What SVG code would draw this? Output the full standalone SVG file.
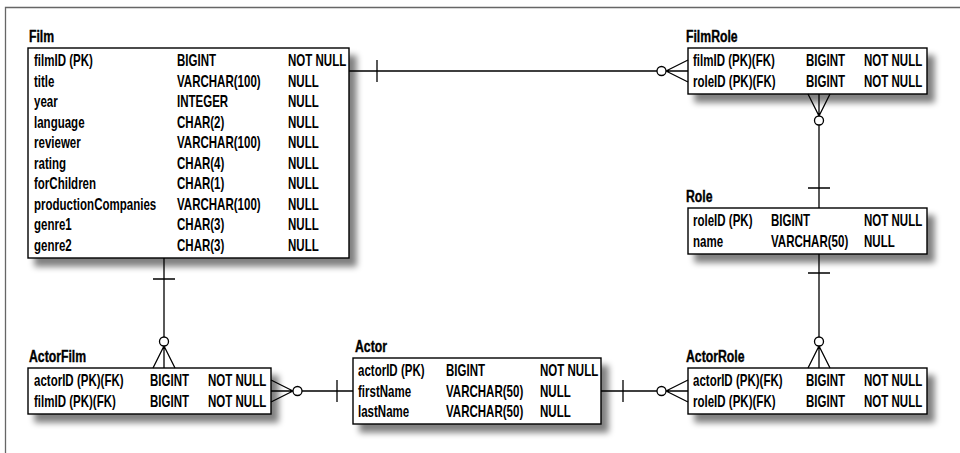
<svg xmlns="http://www.w3.org/2000/svg" width="960" height="453" viewBox="0 0 960 453">
<defs>
<filter id="sh" x="-5%" y="-5%" width="120%" height="160%">
<feOffset in="SourceAlpha" dx="7" dy="8"/>
<feGaussianBlur stdDeviation="3"/>
<feComponentTransfer><feFuncA type="linear" slope="0.5"/></feComponentTransfer>
<feMerge><feMergeNode/><feMergeNode in="SourceGraphic"/></feMerge>
</filter>
</defs>
<style>
.box{fill:#fff;stroke:#000;stroke-width:1.4;filter:url(#sh)}
.t{font-family:"Liberation Sans",Arial,sans-serif;font-weight:bold;font-size:17px;fill:#000;stroke:#000;stroke-width:0.4}
.r{font-family:"Liberation Sans",Arial,sans-serif;font-weight:bold;font-size:16px;fill:#000}
.c{fill:none;stroke:#000;stroke-width:1.3}
.o{fill:#fff;stroke:#000;stroke-width:1.3}
</style>
<rect width="960" height="453" fill="#fff"/>
<path d="M5.5 453 V7.5 H960" fill="none" stroke="#666" stroke-width="1.3"/>

<g id="Film">
<text class="t" transform="translate(29 42) scale(.72 1)">Film</text>
<rect class="box" x="28" y="48" width="321" height="210"/>
<text class="r" transform="translate(34 66) scale(.72 1)">filmID (PK)</text>
<text class="r" transform="translate(177 66) scale(.72 1)">BIGINT</text>
<text class="r" transform="translate(288 66) scale(.72 1)">NOT NULL</text>
<text class="r" transform="translate(34 86.5) scale(.72 1)">title</text>
<text class="r" transform="translate(177 86.5) scale(.72 1)">VARCHAR(100)</text>
<text class="r" transform="translate(288 86.5) scale(.72 1)">NULL</text>
<text class="r" transform="translate(34 107) scale(.72 1)">year</text>
<text class="r" transform="translate(177 107) scale(.72 1)">INTEGER</text>
<text class="r" transform="translate(288 107) scale(.72 1)">NULL</text>
<text class="r" transform="translate(34 127.5) scale(.72 1)">language</text>
<text class="r" transform="translate(177 127.5) scale(.72 1)">CHAR(2)</text>
<text class="r" transform="translate(288 127.5) scale(.72 1)">NULL</text>
<text class="r" transform="translate(34 148) scale(.72 1)">reviewer</text>
<text class="r" transform="translate(177 148) scale(.72 1)">VARCHAR(100)</text>
<text class="r" transform="translate(288 148) scale(.72 1)">NULL</text>
<text class="r" transform="translate(34 168.5) scale(.72 1)">rating</text>
<text class="r" transform="translate(177 168.5) scale(.72 1)">CHAR(4)</text>
<text class="r" transform="translate(288 168.5) scale(.72 1)">NULL</text>
<text class="r" transform="translate(34 189) scale(.72 1)">forChildren</text>
<text class="r" transform="translate(177 189) scale(.72 1)">CHAR(1)</text>
<text class="r" transform="translate(288 189) scale(.72 1)">NULL</text>
<text class="r" transform="translate(34 209.5) scale(.72 1)">productionCompanies</text>
<text class="r" transform="translate(177 209.5) scale(.72 1)">VARCHAR(100)</text>
<text class="r" transform="translate(288 209.5) scale(.72 1)">NULL</text>
<text class="r" transform="translate(34 230) scale(.72 1)">genre1</text>
<text class="r" transform="translate(177 230) scale(.72 1)">CHAR(3)</text>
<text class="r" transform="translate(288 230) scale(.72 1)">NULL</text>
<text class="r" transform="translate(34 250.5) scale(.72 1)">genre2</text>
<text class="r" transform="translate(177 250.5) scale(.72 1)">CHAR(3)</text>
<text class="r" transform="translate(288 250.5) scale(.72 1)">NULL</text>
</g>

<g id="FilmRole">
<text class="t" transform="translate(686 42) scale(.72 1)">FilmRole</text>
<rect class="box" x="688" y="48" width="239" height="46"/>
<text class="r" transform="translate(693 66) scale(.72 1)">filmID (PK)(FK)</text>
<text class="r" transform="translate(806 66) scale(.72 1)">BIGINT</text>
<text class="r" transform="translate(864 66) scale(.72 1)">NOT NULL</text>
<text class="r" transform="translate(693 86.5) scale(.72 1)">roleID (PK)(FK)</text>
<text class="r" transform="translate(806 86.5) scale(.72 1)">BIGINT</text>
<text class="r" transform="translate(864 86.5) scale(.72 1)">NOT NULL</text>
</g>

<g id="Role">
<text class="t" transform="translate(686 202) scale(.72 1)">Role</text>
<rect class="box" x="688" y="208" width="239" height="46"/>
<text class="r" transform="translate(693 226) scale(.72 1)">roleID (PK)</text>
<text class="r" transform="translate(771 226) scale(.72 1)">BIGINT</text>
<text class="r" transform="translate(864 226) scale(.72 1)">NOT NULL</text>
<text class="r" transform="translate(693 246.5) scale(.72 1)">name</text>
<text class="r" transform="translate(771 246.5) scale(.72 1)">VARCHAR(50)</text>
<text class="r" transform="translate(864 246.5) scale(.72 1)">NULL</text>
</g>

<g id="ActorFilm">
<text class="t" transform="translate(29 362) scale(.72 1)">ActorFilm</text>
<rect class="box" x="28" y="368" width="243" height="46"/>
<text class="r" transform="translate(34 386) scale(.72 1)">actorID (PK)(FK)</text>
<text class="r" transform="translate(150 386) scale(.72 1)">BIGINT</text>
<text class="r" transform="translate(208 386) scale(.72 1)">NOT NULL</text>
<text class="r" transform="translate(34 406.5) scale(.72 1)">filmID (PK)(FK)</text>
<text class="r" transform="translate(150 406.5) scale(.72 1)">BIGINT</text>
<text class="r" transform="translate(208 406.5) scale(.72 1)">NOT NULL</text>
</g>

<g id="Actor">
<text class="t" transform="translate(355 352) scale(.72 1)">Actor</text>
<rect class="box" x="353" y="358" width="248" height="66"/>
<text class="r" transform="translate(358 376) scale(.72 1)">actorID (PK)</text>
<text class="r" transform="translate(446 376) scale(.72 1)">BIGINT</text>
<text class="r" transform="translate(540 376) scale(.72 1)">NOT NULL</text>
<text class="r" transform="translate(358 396.5) scale(.72 1)">firstName</text>
<text class="r" transform="translate(446 396.5) scale(.72 1)">VARCHAR(50)</text>
<text class="r" transform="translate(540 396.5) scale(.72 1)">NULL</text>
<text class="r" transform="translate(358 417) scale(.72 1)">lastName</text>
<text class="r" transform="translate(446 417) scale(.72 1)">VARCHAR(50)</text>
<text class="r" transform="translate(540 417) scale(.72 1)">NULL</text>
</g>

<g id="ActorRole">
<text class="t" transform="translate(686 362) scale(.72 1)">ActorRole</text>
<rect class="box" x="688" y="368" width="239" height="46"/>
<text class="r" transform="translate(693 386) scale(.72 1)">actorID (PK)(FK)</text>
<text class="r" transform="translate(806 386) scale(.72 1)">BIGINT</text>
<text class="r" transform="translate(864 386) scale(.72 1)">NOT NULL</text>
<text class="r" transform="translate(693 406.5) scale(.72 1)">roleID (PK)(FK)</text>
<text class="r" transform="translate(806 406.5) scale(.72 1)">BIGINT</text>
<text class="r" transform="translate(864 406.5) scale(.72 1)">NOT NULL</text>
</g>

<g id="connectors">
<!-- Film - FilmRole -->
<path class="c" d="M349 71 H657 M377 60 V82 M666 71 L688 60 M666 71 H688 M666 71 L688 82"/>
<circle class="o" cx="661.5" cy="71" r="4.5"/>
<!-- FilmRole - Role -->
<path class="c" d="M819 125 V208 M808 188 H830 M819 116 L808 94 M819 116 V94 M819 116 L830 94"/>
<circle class="o" cx="819" cy="120.5" r="4.5"/>
<!-- Role - ActorRole -->
<path class="c" d="M819 254 V337 M808 273 H830 M819 346 L808 368 M819 346 V368 M819 346 L830 368"/>
<circle class="o" cx="819" cy="341.5" r="4.5"/>
<!-- Film - ActorFilm -->
<path class="c" d="M164 258 V337 M153 279 H175 M164 346 L153 368 M164 346 V368 M164 346 L175 368"/>
<circle class="o" cx="164" cy="341.5" r="4.5"/>
<!-- ActorFilm - Actor -->
<path class="c" d="M302 391 H353 M337 380 V402 M293 391 L271 380 M293 391 H271 M293 391 L271 402"/>
<circle class="o" cx="297.5" cy="391" r="4.5"/>
<!-- Actor - ActorRole -->
<path class="c" d="M601 391 H657 M623 380 V402 M666 391 L688 380 M666 391 H688 M666 391 L688 402"/>
<circle class="o" cx="661.5" cy="391" r="4.5"/>
</g>
</svg>
